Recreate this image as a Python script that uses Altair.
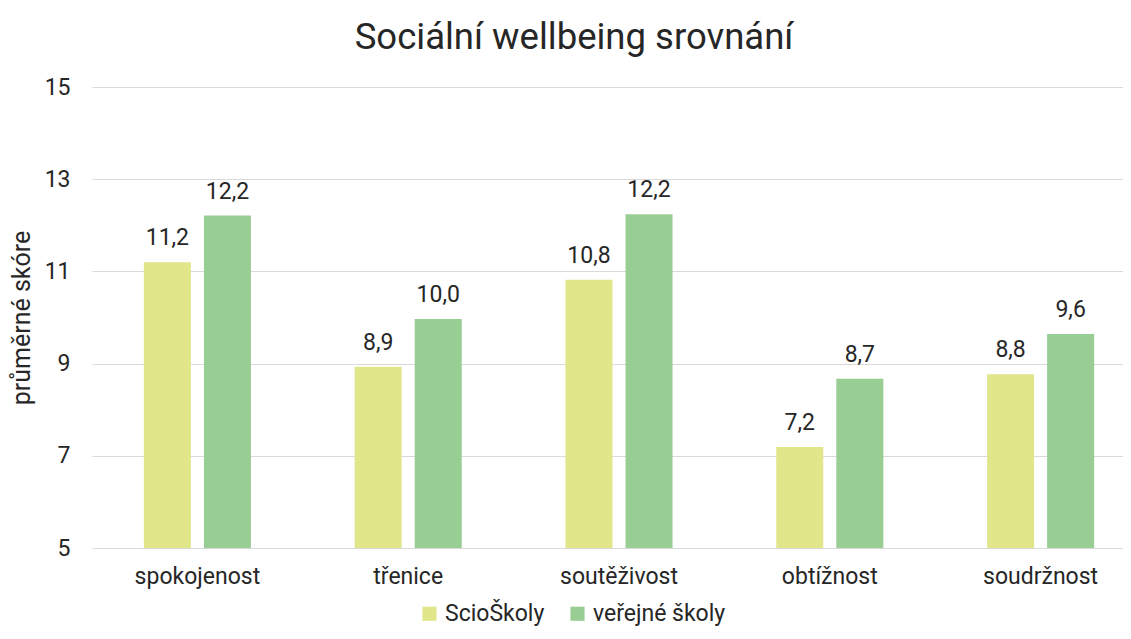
import altair as alt
import pandas as pd

categories = ["spokojenost", "třenice", "soutěživost", "obtížnost", "soudržnost"]
series = ["ScioŠkoly", "veřejné školy"]
scio = [11.2, 8.93, 10.82, 7.19, 8.77]
verejne = [12.21, 9.97, 12.24, 8.67, 9.64]
colors = ["#e1e68b", "#98ce94"]
y_ticks = [5, 7, 9, 11, 13, 15]

rows = []
for c, a, b in zip(categories, scio, verejne):
    rows.append({"kat": c, "skupina": series[0], "hodnota": a})
    rows.append({"kat": c, "skupina": series[1], "hodnota": b})
df = pd.DataFrame(rows)

FONT = "Roboto"
TXT = "#262626"
FS = 23
W, H = 1031, 461

x = alt.X("kat:N", sort=categories, title=None,
          scale=alt.Scale(range=[0, 1054], paddingInner=0.492, paddingOuter=0.246),
          axis=alt.Axis(labelAngle=0, ticks=False, domain=False, grid=False,
                        labelPadding=17, labelFontSize=FS, labelColor=TXT, labelFont=FONT))
xo = alt.XOffset("skupina:N", sort=series, scale=alt.Scale(paddingInner=0.217, paddingOuter=0))
y = alt.Y("hodnota:Q", title="průměrné skóre",
          scale=alt.Scale(domain=[5, 15], zero=False, nice=False),
          axis=alt.Axis(values=y_ticks, ticks=False, domain=False, grid=True,
                        gridColor="#d9d9d9", gridWidth=1,
                        labelPadding=22, labelFontSize=FS, labelColor=TXT, labelFont=FONT,
                        titleFontSize=25, titleFont=FONT, titleFontWeight="normal",
                        titleColor=TXT, titlePadding=10))

base = alt.Chart(df)

bars = base.mark_bar().encode(
    x=x, xOffset=xo, y=y, y2=alt.datum(5),
    color=alt.Color("skupina:N", sort=series,
                    scale=alt.Scale(domain=series, range=colors),
                    legend=alt.Legend(orient="none", legendX=326, legendY=515,
                                      direction="horizontal", title=None,
                                      symbolType="square", symbolSize=200,
                                      symbolStrokeWidth=0, symbolOpacity=1,
                                      labelFontSize=FS, labelFont=FONT, labelColor=TXT,
                                      labelOffset=4, columnPadding=21)),
)

labels = base.transform_calculate(
    lbl="replace(format(datum.hodnota, '.1f'), '.', ',')"
).mark_text(font=FONT, fontSize=FS, baseline="alphabetic", dy=-17, color=TXT).encode(
    x=x, xOffset=xo, y=y, text="lbl:N"
)

chart = alt.layer(bars, labels).properties(
    width=W, height=H,
    padding={"left": 84, "top": 79, "right": 0, "bottom": 83},
    autosize=alt.AutoSizeParams(type="none"),
    title=alt.TitleParams("Sociální wellbeing srovnání", font=FONT, fontSize=36.5,
                          fontWeight="normal", color=TXT, anchor="middle",
                          dx=-33.5, offset=20),
).configure_view(stroke=None)

chart.save("out.html", embed_options={"renderer": "svg", "actions": False})
